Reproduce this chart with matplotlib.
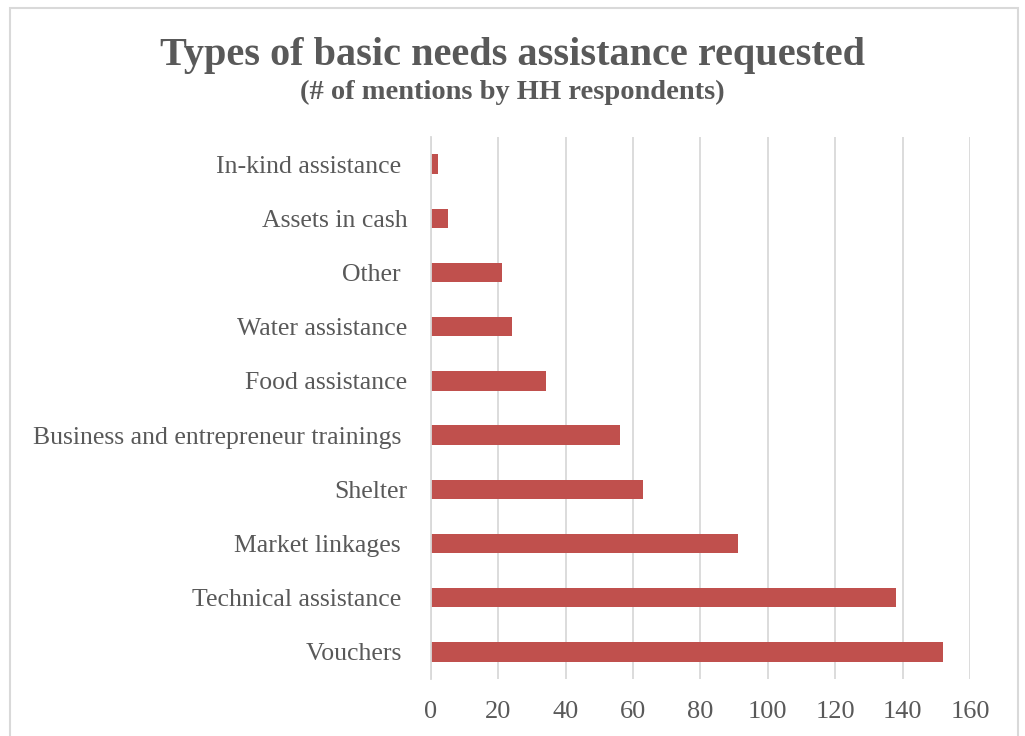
import matplotlib
matplotlib.use("Agg")
import matplotlib.pyplot as plt
from matplotlib.patches import Rectangle

categories = [
    "Vouchers ",
    "Technical assistance ",
    "Market linkages ",
    "Shelter",
    "Business and entrepreneur trainings ",
    "Food assistance",
    "Water assistance",
    "Other ",
    "Assets in cash",
    "In-kind assistance ",
]
mentions = [152, 138, 91, 63, 56, 34, 24, 21, 5, 2]
xticks = [0, 20, 40, 60, 80, 100, 120, 140, 160]

bar_color = "#C0504D"
text_color = "#595959"
grid_color = "#D9D9D9"

plt.rcParams["font.family"] = ["Liberation Serif", "DejaVu Serif"]

fig = plt.figure(figsize=(10.25, 7.36), dpi=100)
ax = fig.add_axes([0.4205, 0.0775, 0.5258, 0.7364])

ypos = list(range(len(categories)))
ax.barh(ypos, mentions, height=0.36, color=bar_color, zorder=3)

ax.set_ylim(-0.5, len(categories) - 0.5)
ax.set_xlim(0, 160)
ax.set_xticks(xticks)
ax.set_xticklabels([str(t) for t in xticks])
ax.set_yticks(ypos)
ax.set_yticklabels(categories)

ax.grid(axis="x", color=grid_color, linewidth=1.3, zorder=0)
for side in ["top", "right", "bottom"]:
    ax.spines[side].set_visible(False)
ax.spines["left"].set_color(grid_color)
ax.spines["left"].set_linewidth(1.3)
ax.spines["left"].set_zorder(4)

ax.tick_params(axis="both", length=0, labelcolor=text_color)
ax.tick_params(axis="y", pad=17, labelsize=18.5)
ax.tick_params(axis="x", pad=16, labelsize=19)

fig.text(0.5, 0.925, "Types of basic needs assistance requested",
         ha="center", va="center", fontsize=29, fontweight="bold", color=text_color)
fig.text(0.5, 0.874, "(# of mentions by HH respondents)",
         ha="center", va="center", fontsize=20.5, fontweight="bold", color=text_color)

# outer chart border
border = Rectangle((10 / 1025, -0.05), 1008 / 1025, 1.05 - 8 / 736,
                   transform=fig.transFigure, fill=False,
                   edgecolor=grid_color, linewidth=1.5)
fig.patches.append(border)

fig.savefig("out.png", dpi=100)
